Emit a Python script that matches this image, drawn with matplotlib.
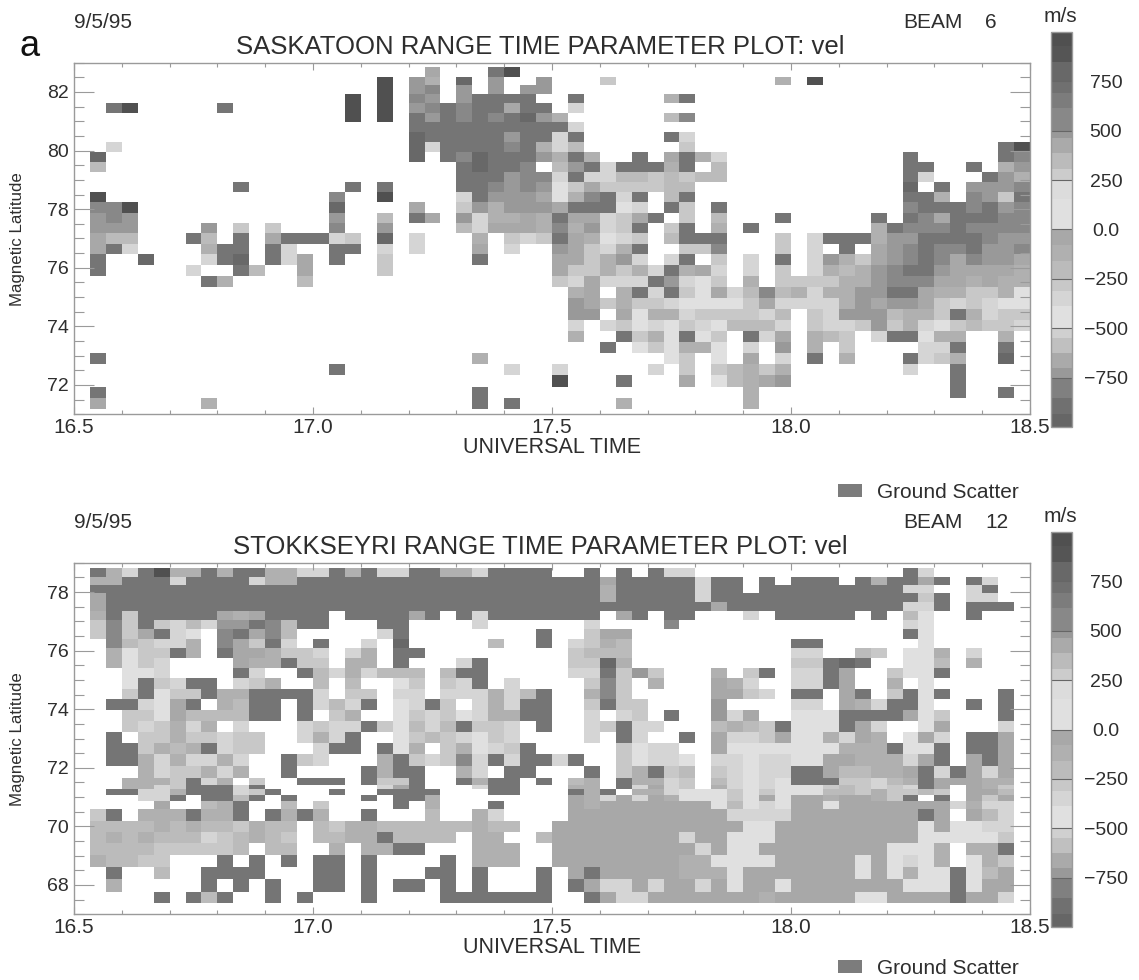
import numpy as np
import matplotlib
matplotlib.use("Agg")
import matplotlib.pyplot as plt
from matplotlib.colors import ListedColormap, BoundaryNorm
from matplotlib.patches import Rectangle

plt.rcParams['font.family'] = ['Liberation Sans', 'DejaVu Sans']

W, H = 1139, 980
TEXT = '#2e2e2e'
AXIS = '#9a9a9a'
GROUND = '#757575'

# colour bar: band edges (m/s) and the grey of each band
CBAR_EDGES = [-1000, -932, -852, -755, -699, -623, -547, -504, -386, -309, -252, -157, -76,
              0, 153, 250, 306, 386, 462, 499, 614, 691, 750, 847, 928, 1000]
CBAR_GREYS = ['#666666', '#707070', '#808080', '#999999', '#aaaaaa', '#c0c0c0', '#d0d0d0', '#e0e0e0',
              '#d5d5d5', '#c8c8c8', '#bbbbbb', '#b0b0b0', '#a8a8a8',
              '#e0e0e0', '#dcdcdc', '#cccccc', '#bbbbbb', '#aaaaaa', '#999999', '#888888',
              '#7c7c7c', '#707070', '#686868', '#555555', '#505050']
CBAR_TICKS = [-750, -500, -250, 0, 250, 500, 750]
CBAR_LABELS = ['\u2212750', '\u2212500', '\u2212250', '0.0', '250', '500', '750']

# velocity (m/s) of each cell code; g marks ground scatter
VELOCITY = {'1': -450, '2': -350, '3': -280, '4': -200, '5': -120, '6': -40,
            '7': 480, '8': 550, '9': 800, 'd': 960}

# time axis: 2-minute cells from 16.5 to 18.5 UT
TIME_EDGES = np.linspace(16.5, 18.5, 61)
TIME_TICKS = [16.5, 17.0, 17.5, 18.0, 18.5]

# latitude edges of the range gates, top to bottom
SASK_LAT = [82.84, 82.52, 82.24, 81.93, 81.61, 81.29, 80.99, 80.65, 80.30, 79.96, 79.62, 79.28,
            78.94, 78.59, 78.23, 77.88, 77.53, 77.18, 76.81, 76.46, 76.10, 75.72, 75.36, 74.98,
            74.61, 74.22, 73.85, 73.48, 73.10, 72.72, 72.34, 71.94, 71.54, 71.17]
STOK_LAT = [78.81, 78.52, 78.24, 77.95, 77.65, 77.35, 77.04, 76.73, 76.41, 76.08, 75.74, 75.39,
            75.05, 74.70, 74.34, 73.97, 73.60, 73.22, 72.84, 72.46, 72.06, 71.66, 71.41, 71.27,
            71.07, 70.87, 70.58, 70.20, 69.81, 69.42, 69.02, 68.63, 68.20, 67.77, 67.37]

# one string per range gate, top to bottom: "column:codes" or "first-last:code"
SASK_ROWS = [
    "22:6 26:gd",
    "19:d 21:75 24:9 26:7 29:7 33:3 44:5 46:d",
    "19:d 21:78 24:7 26:7 28:77",
    "17:d 19:d 21:87 24:7 25:gggg 31:g 37:5g",
    "2:gd 9:g 17:d 19:d 21:78g8gg6gg 31:2",
    "17:d 19:d 21:g7g8g8g975 37:48",
    "21-30:g 31:2",
    "21:9ggggg7gg2g 37:g2",
    "2:2 21:92gggg8g524 38:3 58:gd",
    "1:9 21:9 23:g89ggg75g5 35:g 37:6g52 52:g 58:g8",
    "1:4 24:g9gg8 30:47g2ggg5g 40:4 52:gg 56:g 58:57",
    "24:ggg7882g224434344 52:g2 57:g75",
    "10:g 17:g 19:g 24:gg8787136333344 52:9 54:g 56:7778",
    "1:d 16:8 19:d 24:2g7776158g2g 37:4g 52:gg5 56:873g",
    "1:88d 16:9 21:6 24:3757776ggg12 37:g3 40:g 52:8ggg8g78",
    "1:787 16:7 19:4 21:g6 24:725565g66236g 38:3 40:4 44:g 50:g 52:g86ggg88",
    "1:777 8:7 10:3 12:3 16:8 19:7 24:4266658572 34:3g 37:3g 40:5 42:g 50:5g888g8888",
    "1:644 7:g4 10:g 12:6ggg 16:23 19:9 21:2 25:5 27:323g65123 37:4ggg 44:3 46:2ggg577gggg877",
    "1:6g2 8:5gg 12:g2 16:gg 19:2 21:2 25:6 27:2 30:76325g 38:338 44:3 46:2 48:g 50:678g88g778",
    "1:g 4:9 8:2g9 12:g26 16:g 19:3 25:g 30:663572 37:2g 40:3 42:2 44:g 46:2753678g868776",
    "1:g 7:2 10:g4 14:6 19:3 30:6335352g562 42:2 44:3 46:254578gg766665",
    "8:g5 14:4 30:326222g7213 42:5 44:3333557888665655",
    "31:56 34:5g2g3162484525577gg6553351",
    "31:76353321111362222576776323211",
    "31:77 34:61552333324 46:327774553g5233",
    "31:2 33:231213214442 46:32237352134332",
    "31:5 34:g351g13 42:g26 46:543 50:2gg155 58:5",
    "33:g 35:131551 42:2 44:7 46:5 48:3 53:22g 58:g",
    "1:g 25:5 37:13 40:1 42:6 44:2 46:g 48:5 52:g235 58:9",
    "16:g 27:2 30:2 36:2 38:3 40:34535 52:2 55:g",
    "30:d 34:g 38:6 40:14567 55:g",
    "1:g 25:g 42:5 55:g 58:g",
    "1:6 8:5 25:g 27:g 34:5 42:5",
]
STOK_ROWS = [
    "1:g52gd55g5gg5522g5g22gg552gggg 32:g 34:g 36:g22 52:g2",
    "1:55ggg2 7-10:g 11:255 14-32:g 33:6 34-38:g 39:2gg 43:g 45:ggg 49:g5gg6g 56:g2",
    "1-32:g 33:5 34-38:g 39:2gg 43-51:g 52:22 56:2g",
    "1:6 2-32:g 33:5 34-38:g 39:2 40-52:g 53:3g 56:22",
    "1:6 2-38:g 39:g6 41-51:g 52:22g 56:ggg",
    "1:5g3 4-8:g 9:656 12-15:g 17-20:g 21:6g 24:g2 26-32:g 34:6g 37:gg 42:2 44-48:g 50:g 52:41 56:g",
    "1:383g324277g84gg 19:gg 25:2 32:2 37:8 52:21",
    "1:3836g21 9:8g684 19:2g 29:g 32:366 52:g1",
    "2:843225 9:863g2 15:g 18:2 20:9 26:4 29:g 31:2354 45:gg 53:1",
    "2:5133g5 9:g665332 17:25 20:gg 31:3444 45:22 49:43 52:115 56:2",
    "2:5132 10:655g33 17:55 20:g 24:2g 31:3395 45:33g9g 52:114 56:5",
    "3:112 10:g2 14:g4252444 23:4gg 31:22g373 40:5 42:3g 45:22g6 51:311g",
    "3:1g32gg 10:235 15:4 17:4 20:13 23:32g 27:2 32:383 36:5 40:652 45:22g6 51:5 53:1",
    "3:3g133g55gggg2 17:33 20:22 23:222524g 32:583 40:6632 45:gg 48:6g 51:3g1g 58:g",
    "2:gg216g 9:54gg 14:g242g 20:12g3 25:252gg 32:3g33 40:7 45:22 48:652gg1 56:g 58:g",
    "3:33164444gg 14:g 16:35 20:13231255gg 32:2 34:23 37:g 40:726 45:111gggg613 58:g",
    "3:323525 10:2 14:2322g31424g332 29:g 32:23g22 40:4543g111g62 53:16 58:2",
    "2:g 4:33533233 14:252g 20:13432132 32:2 34:g2 38:g 40:62236115265 52:162 56:gg6",
    "2:gg3545g233 15:2gg 19:g15 23:35123g 34:3122 40:6 41-47:1 48:555g11g 56:gg6",
    "2:gg5252252 13:g32 19:5g32382g2gg2g 34:31221 40:22122116655526g 56:6g6",
    "4:5233525 13:g 18:g5gg 24:52 27:gg 32:g 34:35g34 40:32122gg644556g2g626",
    "3:5553g25 11:3 14:ggg 18:g33g 24:g5gg 29:g 31:45 34:g5523 40:42121ggg33245g66655",
    "3:5523ggg2g 19:26g 25:2gg 31:55 34:g2623 40:5212111343232g6 56:653",
    "2:gg225ggg23g 16:g 19:gggg 26:gg 31:g5g 35:55211131311144353343 56:664",
    "4:22g 8:gg4g 13:g 18:g 20:gg5 31:652626511131616656653g 54:g 56:636",
    "5:6 8:45g 13:4 15:3 20:g 22:5 26:g 31:65 33-39:6 40:14121661 48-54:6 55:2522",
    "1:3g 4:555g55g 12:g5g5 18:g 22:4 25:52 31-40:6 41:2222 45-52:6 53:g6 56:642",
    "1:4444545443544 15:4355444444544 30-41:6 42:11 44-52:6 53:161122",
    "1:4545444234543 15:4455g4444 25:55 29:4 30-37:6 38:266111 44-52:6 53-57:1 58:3",
    "1:4444333334 12:44 16:5 18:55gg 25:555 30-38:6 39:2611 43-50:6 51:1115 56:55g",
    "1:54433 9:g 11:g 13:g 15:gg 18:g 23:g 25:555 30-37:6 38:551111 44-48:6 49:161215 56:153",
    "2:g 5:4 8:gggg 15:gg 18:g 22:gg 25:g 29:g 31:6g 33-37:6 38:5551 42-48:6 49:161511g146",
    "2:5 8:g 10:g 12:g 15:gg 18:g 20:gg 23:g 25:g 29:g 31:g6226266261661 45-51:6 52:111g166",
    "5:g 7:g4g 12:g 14:g 18:g 23-29:g 32:g622 36-42:6 43:5 44-48:6 49:11 51-54:6 55:g662",
]


def decode(rows):
    """Turn the row strings into a velocity grid and a ground-scatter grid."""
    vel = np.full((len(rows), 60), np.nan)
    ground = np.full((len(rows), 60), np.nan)
    for r, row in enumerate(rows):
        for token in row.split():
            where, codes = token.split(':')
            if '-' in where:
                first, last = map(int, where.split('-'))
                codes = codes * (last - first + 1)
            else:
                first = int(where)
            for k, code in enumerate(codes):
                if code == 'g':
                    ground[r, first + k] = 1
                else:
                    vel[r, first + k] = VELOCITY[code]
    return vel, ground


CMAP = ListedColormap(CBAR_GREYS)
NORM = BoundaryNorm(CBAR_EDGES, CMAP.N)

fig = plt.figure(figsize=(W / 100, H / 100), dpi=100, facecolor='white')


def put(x, y, s, **kw):
    kw.setdefault('color', TEXT)
    kw.setdefault('va', 'center')
    fig.text(x / W, 1 - y / H, s, **kw)


def px_axes(left, top, right, bottom):
    return fig.add_axes([left / W, 1 - bottom / H, (right - left) / W, (bottom - top) / H])


def panel(dy, legend_dy, rows, lat_edges, ylim, yticks, title, beam):
    ax = px_axes(74, 62.7 + dy, 1030, 414.3 + dy)
    vel, ground = decode(rows)
    y = np.array(lat_edges)
    mesh = ax.pcolormesh(TIME_EDGES, y, np.ma.masked_invalid(vel), cmap=CMAP, norm=NORM)
    ax.pcolormesh(TIME_EDGES, y, np.ma.masked_invalid(ground),
                  cmap=ListedColormap([GROUND]), vmin=0, vmax=2)
    ax.set_xlim(16.5, 18.5)
    ax.set_ylim(*ylim)
    ax.set_xticks(TIME_TICKS)
    ax.set_xticklabels([f'{t:.1f}' for t in TIME_TICKS])
    ax.set_xticks(np.arange(16.5, 18.51, 0.1), minor=True)
    ax.set_yticks(yticks)
    ax.set_yticks(np.arange(ylim[0], ylim[1] + 0.01, 0.5), minor=True)
    ax.tick_params(axis='x', which='major', direction='in', top=True, length=5, width=0.8,
                   color=AXIS, labelsize=15, labelcolor=TEXT, pad=3)
    ax.tick_params(axis='x', which='minor', direction='in', top=True, length=3, width=0.8, color=AXIS)
    ax.tick_params(axis='y', which='major', direction='in', right=True, length=14.5, width=0.8,
                   color=AXIS, labelsize=14, labelcolor=TEXT, pad=4)
    ax.tick_params(axis='y', which='minor', direction='in', right=True, length=7, width=0.8, color=AXIS)
    for s in ax.spines.values():
        s.set_color(AXIS)
        s.set_linewidth(1.0)

    put(74, 22 + dy, '9/5/95', fontsize=15)
    put(903, 22 + dy, 'BEAM', fontsize=15)
    put(985, 22 + dy, beam, fontsize=15)
    put(540, 47.5 + dy, title, fontsize=18.5, ha='center')
    put(552, 447 + dy, 'UNIVERSAL TIME', fontsize=15.5, ha='center')
    put(18, 239 + dy, 'Magnetic Latitude', fontsize=12.2, rotation=90, ha='center')
    put(1060, 17 + dy, 'm/s', fontsize=15, ha='center')

    fig.add_artist(Rectangle((838 / W, 1 - (497 + legend_dy) / H), 24 / W, 13 / H,
                             transform=fig.transFigure, facecolor='#7c7c7c', edgecolor='none'))
    put(877, 492 + legend_dy, 'Ground Scatter', fontsize=15)

    cax = px_axes(1051, 32 + dy, 1072, 427 + dy)
    cb = fig.colorbar(mesh, cax=cax, spacing='proportional', drawedges=False)
    cb.set_ticks(CBAR_TICKS)
    cb.set_ticklabels(CBAR_LABELS)
    cb.minorticks_off()
    cax.tick_params(axis='y', direction='in', length=15, width=0.8, color='#666666', labelsize=14,
                    labelcolor=TEXT, pad=24.5, right=True)
    for lab in cax.get_yticklabels():
        lab.set_ha('center')
    cb.outline.set_edgecolor(AXIS)
    cb.outline.set_linewidth(1.0)
    return ax


panel(0, 0, SASK_ROWS, SASK_LAT, (71, 83), [72, 74, 76, 78, 80, 82],
      'SASKATOON RANGE TIME PARAMETER PLOT: vel', '6')
panel(500, 476, STOK_ROWS, STOK_LAT, (67, 79), [68, 70, 72, 74, 76, 78],
      'STOKKSEYRI RANGE TIME PARAMETER PLOT: vel', '12')
put(30, 47, 'a', fontsize=26, color='#111111', ha='center')

fig.savefig('out.png', dpi=100, facecolor='white')
